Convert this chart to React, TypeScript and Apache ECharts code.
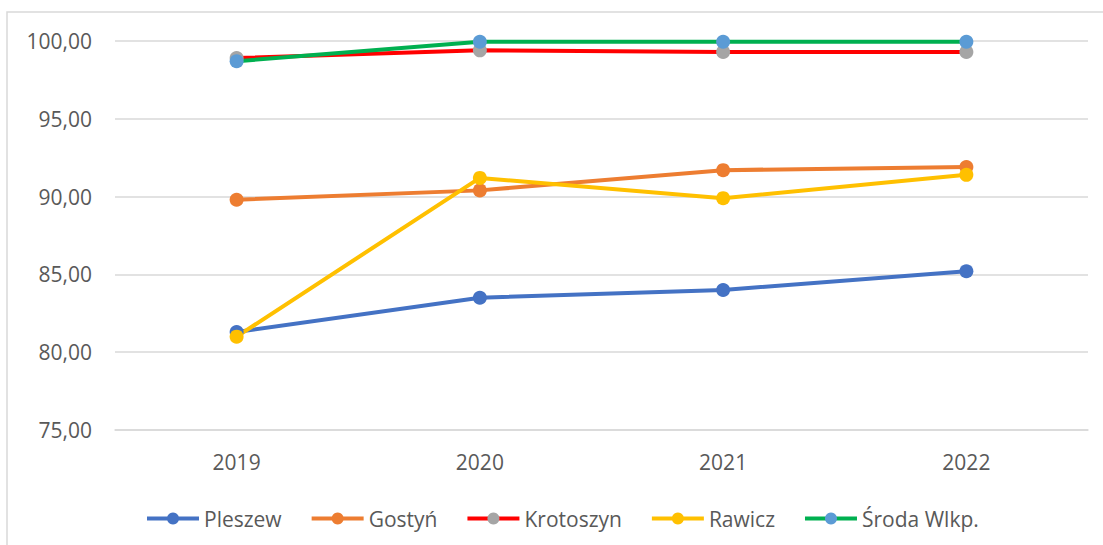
import React, { useEffect, useRef } from "react";
import * as echarts from "echarts";

const years = ["2019", "2020", "2021", "2022"];
const pleszew = [81.3, 83.5, 84.0, 85.2];
const gostyn = [89.8, 90.4, 91.7, 91.9];
const krotoszyn = [98.9, 99.4, 99.3, 99.3];
const rawicz = [81.0, 91.2, 89.9, 91.4];
const sroda = [98.7, 99.95, 99.95, 99.95];

const FONT = "Open Sans";

export default function App() {
  const ref = useRef<HTMLDivElement>(null);
  useEffect(() => {
    const chart = echarts.init(ref.current!, null, { renderer: "svg" });
    const mk = (name: string, data: number[], line: string, marker: string) => ({
      name,
      type: "line",
      data,
      symbol: "circle",
      symbolSize: 14,
      showSymbol: true,
      lineStyle: { color: line, width: 4 },
      itemStyle: { color: marker },
    });
    chart.setOption({
      animation: false,
      backgroundColor: "#ffffff",
      textStyle: { fontFamily: FONT },
      grid: { left: 115, right: 15, top: 41, bottom: 115 },
      legend: {
        bottom: 545 - 529,
        left: 145,
        padding: 0,
        itemWidth: 52,
        itemHeight: 15,
        itemGap: 28,
        lineStyle: { width: 4 },
        textStyle: { color: "#595959", fontSize: 21, fontFamily: FONT },
        data: ["Pleszew", "Gostyń", "Krotoszyn", "Rawicz", "Środa Wlkp."],
      },
      xAxis: {
        type: "category",
        data: years,
        boundaryGap: true,
        axisLine: { lineStyle: { color: "#d9d9d9", width: 1.5 } },
        axisTick: { show: false },
        axisLabel: { color: "#595959", fontSize: 21, margin: 21, fontFamily: FONT },
      },
      yAxis: {
        type: "value",
        min: 75,
        max: 100,
        interval: 5,
        axisLine: { show: false },
        axisTick: { show: false },
        splitLine: { lineStyle: { color: "#d9d9d9", width: 1.5 } },
        axisLabel: {
          color: "#595959",
          fontSize: 21,
          margin: 23,
          fontFamily: FONT,
          formatter: (v: number) => v.toFixed(2).replace(".", ","),
        },
      },
      graphic: [
        {
          type: "polyline",
          shape: { points: [[7, 545], [7, 12], [1103, 12]] },
          style: { stroke: "#d9d9d9", lineWidth: 1.5, fill: "none" },
          silent: true,
        },
      ],
      series: [
        mk("Pleszew", pleszew, "#4472c4", "#4472c4"),
        mk("Gostyń", gostyn, "#ed7d31", "#ed7d31"),
        mk("Krotoszyn", krotoszyn, "#ff0000", "#a5a5a5"),
        mk("Rawicz", rawicz, "#ffc000", "#ffc000"),
        mk("Środa Wlkp.", sroda, "#00b050", "#5b9bd5"),
      ],
    });
    return () => chart.dispose();
  }, []);
  return (
    <div
      ref={ref}
      style={{ position: "fixed", left: 0, top: 0, width: 1103, height: 545 }}
    />
  );
}
